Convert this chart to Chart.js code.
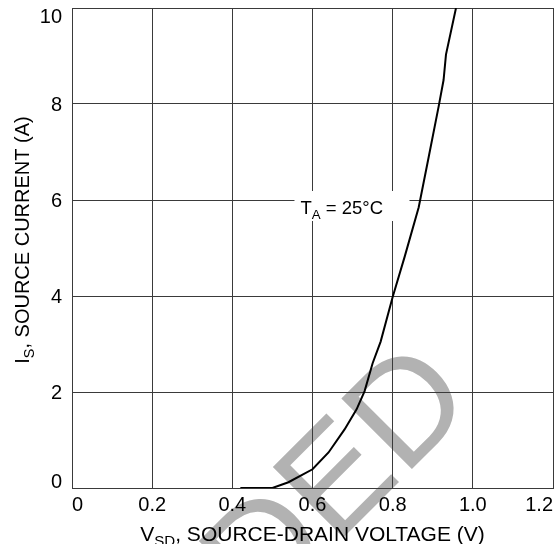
<!DOCTYPE html>
<html>
<head>
  <meta charset="UTF-8" />
  <title>Source current vs source-drain voltage</title>
  <script src="https://cdn.jsdelivr.net/npm/chart.js"></script>
  <style>
    body {
      margin: 0;
      background-color: #ffffff;
    }
    #wrap {
      position: relative;
      width: 560px;
      height: 544px;
    }
  </style>
</head>
<body>
  <div id="wrap"><canvas id="chart"></canvas></div>

  <script>
    // curve (V, A)
    const vsd = [0.42, 0.50, 0.54, 0.60, 0.64, 0.68, 0.71, 0.73, 0.75, 0.77, 0.80, 0.83, 0.865, 0.89, 0.915, 0.927, 0.933, 0.958];
    const isrc = [0, 0, 0.12, 0.39, 0.74, 1.22, 1.64, 2.02, 2.6, 3.05, 3.98, 4.82, 5.85, 6.9, 7.96, 8.5, 9.03, 10.0];

    const xTicks = [0, 0.2, 0.4, 0.6, 0.8, 1.0, 1.2];
    const xTickLabels = ['0', '0.2', '0.4', '0.6', '0.8', '1.0', '1.2'];
    const yTicks = [0, 2, 4, 6, 8, 10];
    const yTickLabels = ['0', '2', '4', '6', '8', '10'];

    // text pieces: [text, isSubscript]
    const xTitle = [['V', false], ['SD', true], [', SOURCE-DRAIN VOLTAGE (V)', false]];
    const yTitle = [['I', false], ['S', true], [', SOURCE CURRENT (A)', false]];
    const note = [['T', false], ['A', true], [' = 25°C', false]];
    const noteAt = { x: 0.57, y: 6 };
    const watermark = 'DED';

    const FONT = '"Liberation Sans", Arial, sans-serif';

    function partsWidth(ctx, parts, size) {
      let w = 0;
      parts.forEach(p => {
        ctx.font = (p[1] ? size * 0.72 : size) + 'px ' + FONT;
        w += ctx.measureText(p[0]).width;
      });
      return w;
    }

    function drawParts(ctx, parts, x, y, size) {
      parts.forEach(p => {
        const s = p[1] ? size * 0.72 : size;
        ctx.font = s + 'px ' + FONT;
        ctx.fillText(p[0], x, p[1] ? y + size * 0.25 : y);
        x += ctx.measureText(p[0]).width;
      });
    }

    const decor = {
      id: 'decor',
      beforeDraw(chart) {
        // faint watermark under everything
        const ctx = chart.ctx;
        ctx.save();
        ctx.translate(261, 620);
        ctx.rotate(-Math.PI / 4);
        ctx.fillStyle = '#b2b2b2';
        ctx.font = '145px ' + FONT;
        ctx.textBaseline = 'alphabetic';
        ctx.fillText(watermark, 0, 0);
        ctx.restore();
      },
      beforeDatasetsDraw(chart) {
        // white box behind the temperature note
        const ctx = chart.ctx;
        const px = chart.scales.x.getPixelForValue(noteAt.x);
        const py = chart.scales.y.getPixelForValue(noteAt.y);
        ctx.save();
        ctx.fillStyle = '#ffffff';
        ctx.fillRect(px - 6, py - 9, 115, 30);
        ctx.fillStyle = '#000000';
        ctx.textBaseline = 'alphabetic';
        drawParts(ctx, note, px, py + 14, 18.5);
        ctx.restore();
      },
      afterDraw(chart) {
        const ctx = chart.ctx;
        const a = chart.chartArea;
        const ys = chart.scales.y;
        ctx.save();
        ctx.fillStyle = '#000000';
        ctx.font = '20px ' + FONT;
        ctx.textAlign = 'right';
        ctx.textBaseline = 'alphabetic';
        yTicks.forEach((v, i) => {
          let py = ys.getPixelForValue(v) + 7;
          if (i === yTicks.length - 1) py = a.top + 15;
          if (i === 0) py = a.bottom;
          ctx.fillText(yTickLabels[i], a.left - 10, py);
        });

        ctx.textAlign = 'left';
        const xw = partsWidth(ctx, xTitle, 21);
        drawParts(ctx, xTitle, (a.left + a.right) / 2 - xw / 2, 541, 21);

        const yw = partsWidth(ctx, yTitle, 20);
        ctx.translate(29, (a.top + a.bottom) / 2 - 8);
        ctx.rotate(-Math.PI / 2);
        drawParts(ctx, yTitle, -yw / 2, 0, 20);
        ctx.restore();
      }
    };

    const ctx = document.getElementById('chart').getContext('2d');
    new Chart(ctx, {
      type: 'line',
      data: {
        datasets: [{
          data: vsd.map((v, i) => ({ x: v, y: isrc[i] })),
          borderColor: '#000000',
          borderWidth: 2,
          pointRadius: 0,
          tension: 0,
          fill: false
        }]
      },
      options: {
        responsive: true,
        maintainAspectRatio: false,
        animation: false,
        layout: { padding: { left: 72, top: 8, right: 7, bottom: 22 } },
        plugins: {
          legend: { display: false },
          tooltip: { enabled: false }
        },
        scales: {
          x: {
            type: 'linear',
            min: 0,
            max: 1.2,
            afterBuildTicks: s => { s.ticks = xTicks.map(v => ({ value: v })); },
            grid: { color: '#3a3a3a', lineWidth: 1, drawTicks: false },
            border: { color: '#3a3a3a' },
            ticks: {
              align: 'inner',
              padding: 5,
              color: '#000000',
              font: { family: FONT, size: 20 },
              callback: (v, i) => xTickLabels[i]
            }
          },
          y: {
            min: 0,
            max: 10,
            afterBuildTicks: s => { s.ticks = yTicks.map(v => ({ value: v })); },
            grid: { color: '#3a3a3a', lineWidth: 1, drawTicks: false },
            border: { color: '#3a3a3a' },
            ticks: { display: false }
          }
        }
      },
      plugins: [decor]
    });
  </script>
</body>
</html>
